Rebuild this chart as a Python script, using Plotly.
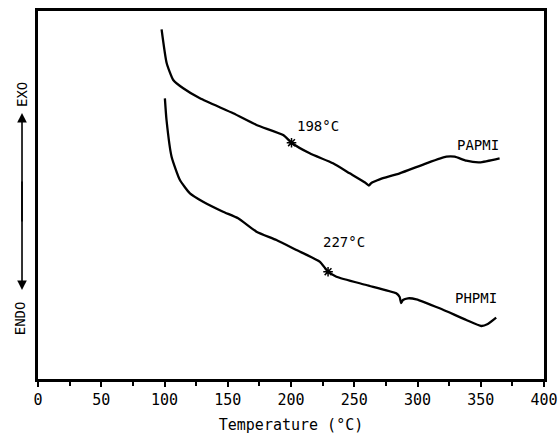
import plotly.graph_objects as go

# PAPMI DSC trace (temperature in degC, heat flow in arbitrary units)
papmi_t = [97.7, 101.7, 106.9, 114.8, 128.0, 154.3, 172.7, 193.8, 200.4, 214.8, 233.2, 246.4,
           258.5, 261.5, 263.5, 270.1, 285.9, 307.0, 322.8, 329.4, 338.6, 349.1, 364.9]
papmi_y = [349.7, 316.0, 299.0, 290.7, 280.7, 265.7, 254.0, 244.0, 236.3, 225.7, 215.7, 205.7,
           196.5, 193.5, 196.0, 199.7, 205.7, 215.7, 222.3, 222.3, 218.3, 216.7, 220.7]

# PHPMI DSC trace
phpmi_t = [100.3, 101.6, 105.6, 112.2, 120.1, 130.5, 146.3, 158.2, 172.7, 188.5, 204.3, 222.7,
           229.3, 235.9, 259.5, 283.2, 285.9, 287.0, 288.5, 292.5, 299.1, 317.5, 338.6, 350.4,
           355.6, 362.2]
phpmi_y = [280.7, 259.0, 222.3, 199.0, 185.7, 177.3, 167.3, 160.7, 147.3, 139.0, 129.0, 117.3,
           107.3, 102.3, 94.0, 85.7, 82.0, 76.0, 79.0, 80.7, 79.7, 70.7, 59.0, 53.0,
           55.0, 61.3]

# Glass-transition marks
tg_t = [200.4, 229.3]
tg_y = [236.3, 107.3]
tg_labels = ["198°C", "227°C"]
tg_label_pos = [(221, 253), (242, 137)]

series_names = ["PAPMI", "PHPMI"]
series_label_pos = [(348, 234), (346, 81)]

x_ticks = [0, 50, 100, 150, 200, 250, 300, 350, 400]

FONT = "DejaVu Sans Mono"

fig = go.Figure()
fig.add_trace(go.Scatter(x=papmi_t, y=papmi_y, mode="lines",
                         line=dict(color="black", width=2.3, shape="spline", smoothing=0.5),
                         showlegend=False))
fig.add_trace(go.Scatter(x=phpmi_t, y=phpmi_y, mode="lines",
                         line=dict(color="black", width=2.3, shape="spline", smoothing=0.5),
                         showlegend=False))
fig.add_trace(go.Scatter(x=tg_t, y=tg_y, mode="markers",
                         marker=dict(symbol="asterisk-open", size=8, color="black",
                                     line=dict(color="black", width=1.5)),
                         showlegend=False))

for lab, (x, y) in zip(tg_labels, tg_label_pos):
    fig.add_annotation(x=x, y=y, text=lab, showarrow=False,
                       font=dict(family=FONT, size=14, color="black"))
for lab, (x, y) in zip(series_names, series_label_pos):
    fig.add_annotation(x=x, y=y, text=lab, showarrow=False,
                       font=dict(family=FONT, size=14, color="black"))

# EXO / ENDO double-headed arrow: two overlapping arrows
xa = -0.0316
for head_y, tail_off in [(0.7228, 110), (0.2418, -110)]:
    fig.add_annotation(xref="paper", yref="paper", x=xa, y=head_y,
                       ax=0, ay=tail_off, axref="pixel", ayref="pixel",
                       showarrow=True, arrowhead=2, arrowsize=1.2, arrowwidth=1.6,
                       arrowcolor="black", text="")
fig.add_annotation(xref="paper", yref="paper", x=xa, y=0.7717, text="EXO",
                   textangle=-90, showarrow=False, xanchor="center", yanchor="middle",
                   font=dict(family=FONT, size=14, color="black"))
fig.add_annotation(xref="paper", yref="paper", x=-0.035, y=0.1658, text="ENDO",
                   textangle=-90, showarrow=False, xanchor="center", yanchor="middle",
                   font=dict(family=FONT, size=14, color="black"))

fig.update_layout(
    width=558, height=436,
    margin=dict(l=38, r=14, t=11, b=57, autoexpand=False),
    paper_bgcolor="white", plot_bgcolor="white",
    font=dict(family=FONT, size=15, color="black"),
    xaxis=dict(range=[0, 400], tickvals=x_ticks, ticks="outside", ticklen=5,
               tickwidth=2, tickcolor="black", showgrid=False, zeroline=False,
               showline=True, linecolor="black", linewidth=2.5, mirror=True,
               automargin=False,
               minor=dict(dtick=25, ticks="outside", ticklen=4, tickwidth=2,
                          tickcolor="black", showgrid=False),
               title=dict(text="Temperature (°C)", font=dict(family=FONT, size=15),
                          standoff=12),
               tickfont=dict(family=FONT, size=15)),
    yaxis=dict(range=[0, 368], showticklabels=False, ticks="", showgrid=False,
               zeroline=False, showline=True, linecolor="black", linewidth=2.5,
               mirror=True, automargin=False),
)

fig.write_html("out.html")
